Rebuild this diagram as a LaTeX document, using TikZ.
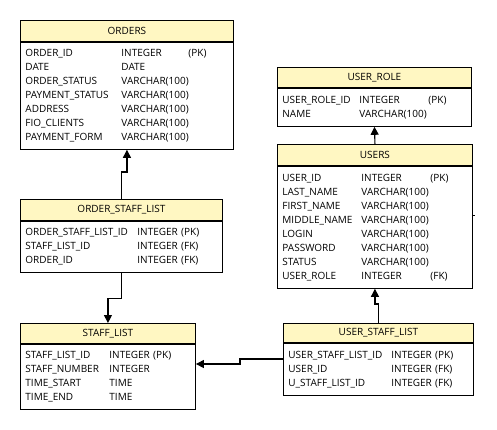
\documentclass[tikz,border=0pt]{standalone}
\usepackage{fontspec}
\setmainfont{Open Sans}
\usepackage{xcolor}
\usepackage{tikz}
\usetikzlibrary{arrows.meta,positioning,calc}
\setlength{\tabcolsep}{0pt}
\definecolor{erheadfill}{RGB}{255,247,194}
\tikzset{
  erhead/.style={draw, line width=0.9pt, fill=erheadfill, anchor=north west, inner sep=0pt, font=\fontsize{10}{14}\selectfont},
  erbody/.style={draw, line width=0.9pt, anchor=north, inner xsep=5pt, inner ysep=0pt, align=left, font=\fontsize{10}{14}\selectfont},
  erlink/.style={-{Triangle[length=8pt,width=8pt]}, line width=1.1pt}
}

\begin{document}
\begin{tikzpicture}[x=1pt, y=-1pt]
\useasboundingbox (0,0) rectangle (497,429);
% orders table
\node[erhead, minimum width=213pt, minimum height=21pt] (orders) at (20,20) {ORDERS};
\node[erbody, text width=203pt, minimum height=107pt] (orders-body) at (orders.south)
{\begin{tabular}{@{}p{96pt}p{67pt}l@{}}
ORDER\_ID & INTEGER & (PK)\\
DATE & DATE & \\
ORDER\_STATUS & VARCHAR(100) & \\
PAYMENT\_STATUS & VARCHAR(100) & \\
ADDRESS & VARCHAR(100) & \\
FIO\_CLIENTS & VARCHAR(100) & \\
PAYMENT\_FORM & VARCHAR(100) &
\end{tabular}};

% user_role table
\node[erhead, minimum width=194pt, minimum height=20pt] (urole) at (277,67) {USER\_ROLE};
\node[erbody, text width=184pt, minimum height=38pt] (urole-body) at (urole.south)
{\begin{tabular}{@{}p{77pt}p{69pt}l@{}}
USER\_ROLE\_ID & INTEGER & (PK)\\
NAME & VARCHAR(100) &
\end{tabular}};

% users table
\node[erhead, minimum width=195pt, minimum height=21pt] (users) at (277,144) {USERS};
\node[erbody, text width=185pt, minimum height=122pt] (users-body) at (users.south)
{\begin{tabular}{@{}p{79pt}p{69pt}l@{}}
USER\_ID & INTEGER & (PK)\\
LAST\_NAME & VARCHAR(100) & \\
FIRST\_NAME & VARCHAR(100) & \\
MIDDLE\_NAME & VARCHAR(100) & \\
LOGIN & VARCHAR(100) & \\
PASSWORD & VARCHAR(100) & \\
STATUS & VARCHAR(100) & \\
USER\_ROLE & INTEGER & (FK)
\end{tabular}};

% order_staff_list table
\node[erhead, minimum width=202pt, minimum height=21pt] (ostaff) at (20,199) {ORDER\_STAFF\_LIST};
\node[erbody, text width=192pt, minimum height=51pt] (ostaff-body) at (ostaff.south)
{\begin{tabular}{@{}p{112pt}l@{}}
ORDER\_STAFF\_LIST\_ID & INTEGER (PK)\\
STAFF\_LIST\_ID & INTEGER (FK)\\
ORDER\_ID & INTEGER (FK)
\end{tabular}};

% staff_list table
\node[erhead, minimum width=175pt, minimum height=20pt] (staff) at (20,323) {STAFF\_LIST};
\node[erbody, text width=165pt, minimum height=65pt] (staff-body) at (staff.south)
{\begin{tabular}{@{}p{84pt}l@{}}
STAFF\_LIST\_ID & INTEGER (PK)\\
STAFF\_NUMBER & INTEGER\\
TIME\_START & TIME\\
TIME\_END & TIME
\end{tabular}};

% user_staff_list table
\node[erhead, minimum width=190pt, minimum height=19pt] (ustaff) at (283,323) {USER\_STAFF\_LIST};
\node[erbody, text width=180pt, minimum height=52pt] (ustaff-body) at (ustaff.south)
{\begin{tabular}{@{}p{103pt}l@{}}
USER\_STAFF\_LIST\_ID & INTEGER (PK)\\
USER\_ID & INTEGER (FK)\\
U\_STAFF\_LIST\_ID & INTEGER (FK)
\end{tabular}};

% links
\draw[erlink] (ostaff.north) -- ++(0,-27) -| (orders-body.south);
\draw[erlink] (ostaff-body.south) -- ++(0,26) -| (staff.north);
\coordinate (ustaffout) at (283,359);
\coordinate (staffjoin) at (240,364);
\draw[erlink] (ustaff-body.west |- ustaffout) -| (staffjoin) -- (staff-body.east |- staffjoin);
\draw[erlink] (ustaff.north) -- ++(0,-19) -| (users-body.south);
\draw[erlink] (users.north) -- (urole-body.south);
\coordinate (usertick) at (475,215);
\draw[line width=0.8pt] (users-body.east |- usertick) -- (usertick);
\end{tikzpicture}
\end{document}
